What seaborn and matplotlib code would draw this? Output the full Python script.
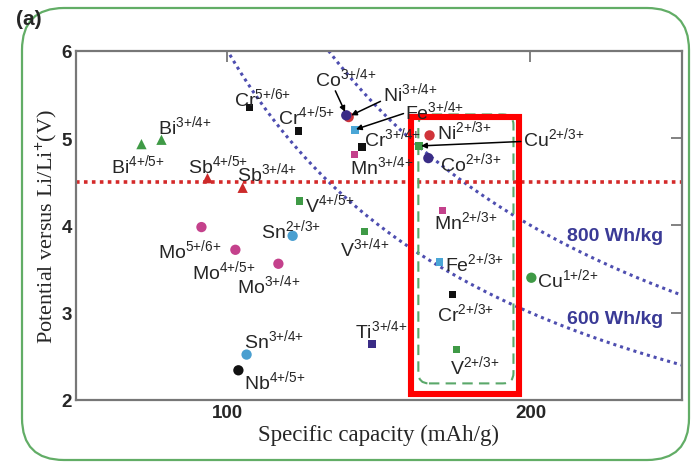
import numpy as np
import pandas as pd
import matplotlib
matplotlib.use("Agg")
import matplotlib.pyplot as plt
import seaborn as sns
from matplotlib.patches import Rectangle, FancyBboxPatch
from matplotlib.transforms import IdentityTransform

# redox couples: label, capacity (mAh/g), potential (V)
couples = ["Bi4+/5+", "Bi3+/4+", "Sb4+/5+", "Sb3+/4+", "Cr5+/6+", "Cr4+/5+",
           "V4+/5+", "Mo5+/6+", "Mo4+/5+", "Mo3+/4+", "Sn2+/3+", "Sn3+/4+",
           "Nb4+/5+", "Ni3+/4+", "Co3+/4+", "Fe3+/4+", "Cr3+/4+", "Mn3+/4+",
           "Ni2+/3+", "Cu2+/3+", "Co2+/3+", "Mn2+/3+", "V3+/4+", "Fe2+/3+",
           "Cu1+/2+", "Cr2+/3+", "Ti3+/4+", "V2+/3+"]
capacity = [71.6, 78.2, 93.4, 105.0, 107.3, 123.4,
            123.8, 91.4, 102.6, 116.8, 121.5, 106.3,
            103.6, 140.0, 139.2, 142.0, 144.4, 141.9,
            166.7, 163.2, 166.3, 171.0, 145.2, 170.0,
            200.3, 174.3, 147.8, 175.6]
potential = [4.93, 4.98, 4.54, 4.43, 5.35, 5.08,
             4.28, 3.98, 3.72, 3.56, 3.88, 2.52,
             2.34, 5.24, 5.26, 5.09, 4.90, 4.81,
             5.03, 4.91, 4.77, 4.17, 3.93, 3.58,
             3.40, 3.21, 2.64, 2.58]
shape = ["tri", "tri", "tri", "tri", "sq", "sq",
         "sq", "ci", "ci", "ci", "ci", "ci",
         "ci", "ci", "ci", "sq", "sq", "sq",
         "ci", "sq", "ci", "sq", "sq", "sq",
         "ci", "sq", "sq", "sq"]

energy_lines = [800, 600]   # Wh/kg iso-energy curves
threshold_v = 4.5

df = pd.DataFrame({"couple": couples, "capacity": capacity,
                   "potential": potential, "shape": shape})
df["element"] = df["couple"].str.extract(r"^([A-Z][a-z]?)")[0]

element_colors = {"Bi": "#3f9a46", "Sb": "#cc2a2a", "Cr": "#111111",
                  "V": "#3f9a46", "Mo": "#c4418c", "Sn": "#4a9fd0",
                  "Nb": "#111111", "Ni": "#d0343a", "Co": "#3a2c86",
                  "Fe": "#4aa6d6", "Mn": "#c4418c", "Cu": "#3f9a46",
                  "Ti": "#3a2c86"}
shape_markers = {"tri": "^", "sq": "s", "ci": "o"}
shape_sizes = {"tri": 55, "sq": 30, "ci": 55}

sns.set_theme(style="white")
plt.rcParams["font.family"] = ["Liberation Sans", "DejaVu Sans"]
plt.rcParams["mathtext.fontset"] = "custom"
plt.rcParams["mathtext.rm"] = "Liberation Sans"
plt.rcParams["mathtext.it"] = "Liberation Sans"

fig = plt.figure(figsize=(6.93, 4.64), dpi=100)
ax = fig.add_axes([0.1097, 0.1358, 0.8743, 0.7528])

# outer rounded frame (pixel coordinates)
frame = FancyBboxPatch((22, 3), 667, 452, boxstyle="round,pad=0,rounding_size=42",
                       transform=IdentityTransform(), fill=False,
                       edgecolor="#62ad66", linewidth=1.6, zorder=0)
fig.patches.append(frame)
fig.text(16 / 693, 1 - 29 / 464, "(a)", fontsize=15, fontweight="bold",
         va="bottom", ha="left")

# iso-energy curves
qq = np.linspace(55, 250, 300)
for e in energy_lines:
    ax.plot(qq, e / qq, color="#4e4eb0", lw=2.2, ls=(0, (1, 1.3)), zorder=1)
ax.axhline(threshold_v, color="#d42a2a", lw=2.6, ls=(0, (1, 1.2)), zorder=1)

# green dashed rounded box and red highlight box
ax.add_patch(FancyBboxPatch((163, 2.19), 31.4, 3.08,
                            boxstyle="round,pad=0,rounding_size=3.5",
                            mutation_aspect=0.034, fill=False,
                            edgecolor="#5aa86a", lw=1.5, ls=(0, (5, 3)), zorder=2))
ax.add_patch(Rectangle((160.6, 2.07), 35.6, 3.17, fill=False, edgecolor="#ff0000",
                       lw=4.4, zorder=5))

for shp, mk in shape_markers.items():
    sub = df[df["shape"] == shp]
    sns.scatterplot(data=sub, x="capacity", y="potential", hue="element",
                    palette=element_colors, marker=mk, s=shape_sizes[shp],
                    edgecolor="none", legend=False, ax=ax, zorder=4)

# labels: (text x, baseline y)
label_pos = {"Bi4+/5+": (61.4, 4.61), "Bi3+/4+": (76.9, 5.06),
             "Sb4+/5+": (86.8, 4.61), "Sb3+/4+": (103.3, 4.52),
             "Cr5+/6+": (102.0, 5.38), "Cr4+/5+": (116.8, 5.17),
             "V4+/5+": (125.7, 4.16), "Mo5+/6+": (76.9, 3.64),
             "Mo4+/5+": (88.4, 3.40), "Mo3+/4+": (103.0, 3.23),
             "Sn2+/3+": (110.9, 3.87), "Sn3+/4+": (105.3, 2.61),
             "Nb4+/5+": (105.3, 2.14), "Co3+/4+": (129.0, 5.61),
             "Ni3+/4+": (151.2, 5.43), "Fe3+/4+": (158.7, 5.23),
             "Cr3+/4+": (145.2, 4.92), "Mn3+/4+": (140.6, 4.60),
             "Ni2+/3+": (169.0, 5.00), "Cu2+/3+": (197.6, 4.92),
             "Co2+/3+": (170.3, 4.63), "Mn2+/3+": (168.3, 3.97),
             "V3+/4+": (137.3, 3.66), "Fe2+/3+": (171.9, 3.49),
             "Cu1+/2+": (202.3, 3.30), "Cr2+/3+": (169.0, 2.92),
             "Ti3+/4+": (142.2, 2.72), "V2+/3+": (173.6, 2.31)}
for c in couples:
    sym = "".join(ch for ch in c if ch.isalpha())
    ox = c[len(sym):].replace("+", "{+}")
    tx, ty = label_pos[c]
    ax.text(tx, ty, sym + "$^{" + ox + "}$", fontsize=14, va="baseline",
            ha="left", zorder=6)

arrows = [((135.6, 5.54), (138.8, 5.30)), ((150.5, 5.42), (140.8, 5.26)),
          ((158.1, 5.28), (142.4, 5.10)), ((196.8, 4.96), (163.9, 4.91))]
for start, end in arrows:
    ax.annotate("", xy=end, xytext=start,
                arrowprops=dict(arrowstyle="-|>", color="black", lw=1.1,
                                mutation_scale=8, shrinkA=0, shrinkB=0), zorder=6)

for e, yy in zip(energy_lines, [3.83, 2.88]):
    ax.text(212.2, yy, f"{e} Wh/kg", fontsize=14, fontweight="bold",
            color="#3a3a96", va="baseline", ha="left", zorder=6)

ax.set_xlim(50, 250)
ax.set_ylim(2, 6)
ax.set_xticks([100, 200])
ax.set_yticks([2, 3, 4, 5, 6])
ax.tick_params(direction="in", length=8, width=1.3, color="#777777",
               top=True, right=True, labelsize=13.5, pad=3)
for lab in ax.get_xticklabels() + ax.get_yticklabels():
    lab.set_fontweight("bold")
for sp in ax.spines.values():
    sp.set_color("#777777")
    sp.set_linewidth(1.6)

ax.set_xlabel("Specific capacity (mAh/g)", fontsize=16.5,
              fontfamily="Liberation Serif", labelpad=2)
ax.set_ylabel("Potential versus Li/Li$^{+}$(V)", fontsize=16,
              fontfamily="Liberation Serif", labelpad=2)

fig.savefig("out.png", dpi=100)
